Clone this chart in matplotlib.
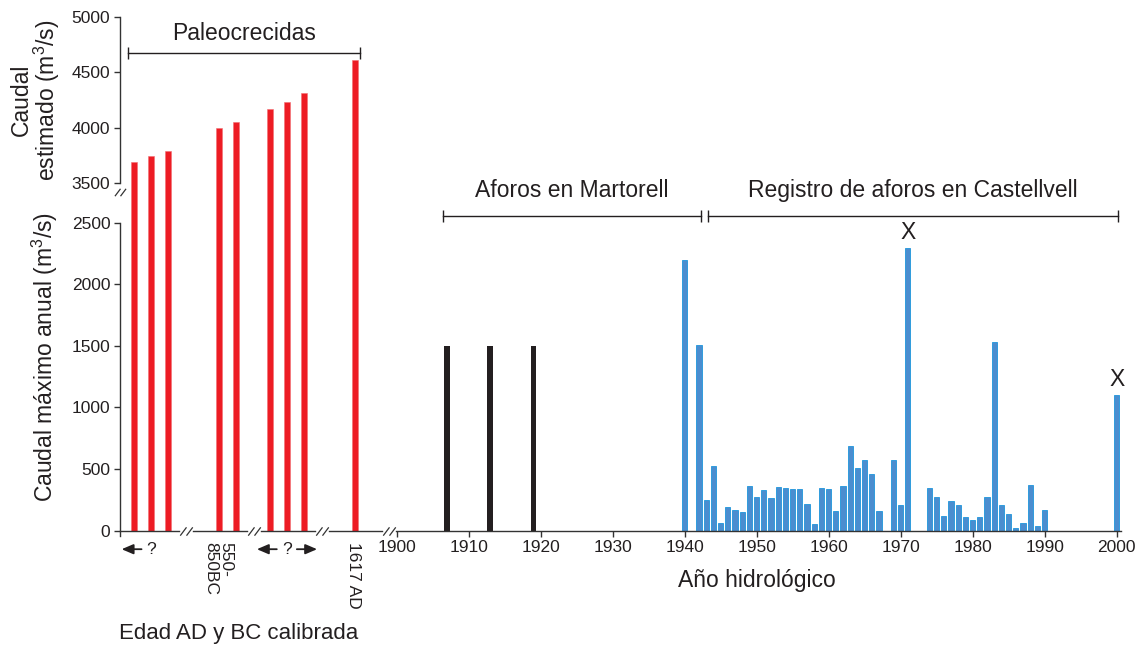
#!/usr/bin/env python3

import numpy as np
import matplotlib
matplotlib.use('Agg')
import matplotlib.pyplot as plt
import matplotlib.transforms as mtransforms
from matplotlib.path import Path

plt.rcParams['font.family'] = ['Liberation Sans', 'DejaVu Sans']
plt.rcParams['mathtext.fontset'] = 'custom'
plt.rcParams['mathtext.rm'] = 'Liberation Sans'
plt.rcParams['mathtext.it'] = 'Liberation Sans:italic'

# --- data -------------------------------------------------------------
# paleoflood estimates (upper, broken scale), position = slot on the left block
paleo_slots = [0, 1, 2, 5, 6, 8, 9, 10, 13]
paleo_values = [3690, 3745, 3790, 4000, 4050, 4170, 4235, 4310, 4610]

# Martorell gauge
martorell_years = [1907, 1913, 1919]
martorell_values = [1500, 1500, 1500]

# Castellvell gauge
castellvell_years = [1940, 1942,
                     1943, 1944, 1945, 1946, 1947, 1948, 1949, 1950, 1951, 1952,
                     1953, 1954, 1955, 1956, 1957, 1958, 1959, 1960, 1961, 1962,
                     1963, 1964, 1965, 1966, 1967,
                     1969, 1970, 1971,
                     1974, 1975, 1976, 1977, 1978, 1979, 1980, 1981, 1982, 1983,
                     1984, 1985, 1986, 1987, 1988, 1989, 1990,
                     2000]
castellvell_values = [2200, 1510,
                      249, 528, 60, 190, 168, 152, 360, 276, 328, 268,
                      352, 344, 336, 336, 214, 52, 344, 338, 160, 360,
                      685, 511, 571, 458, 157,
                      571, 209, 2292,
                      347, 271, 119, 244, 206, 109, 84, 109, 271, 1529,
                      206, 138, 19, 60, 368, 36, 166,
                      1100]
marked_years = [1971, 2000]

year_ticks = [1900, 1910, 1920, 1930, 1940, 1950, 1960, 1970, 1980, 1990, 2000]
y_ticks = [0, 500, 1000, 1500, 2000, 2500, 3500, 4000, 4500, 5000]

# --- layout constants --------------------------------------------------
TXT = '#231f20'
AXC = '#333333'
RED = '#ed1c24'
BLUE = '#4b8dcf'
BLUE_EDGE = '#1e96dc'

PALEO_X0 = 1863.5   # x of first paleo slot (in year units)
SLOT = 2.36         # slot spacing (in year units)
BREAK_SLOTS = [3.05, 7.05, 11.05, 15.0]
XMIN, XMAX = 1861.57, 2000.6

BREAK_LO, BREAK_HI = 2500, 3500
GAP = 320.0
K = 0.901


def slot_x(s):
    return PALEO_X0 + SLOT * np.asarray(s, float)


def fwd(y):
    y = np.asarray(y, float)
    mid = BREAK_LO + (y - BREAK_LO) * GAP / (BREAK_HI - BREAK_LO)
    hi = BREAK_LO + GAP + (y - BREAK_HI) * K
    return np.where(y <= BREAK_LO, y, np.where(y <= BREAK_HI, mid, hi))


def inv(u):
    u = np.asarray(u, float)
    mid = BREAK_LO + (u - BREAK_LO) * (BREAK_HI - BREAK_LO) / GAP
    hi = BREAK_HI + (u - BREAK_LO - GAP) / K
    return np.where(u <= BREAK_LO, u, np.where(u <= BREAK_LO + GAP, mid, hi))


brk_path = Path([(-6, -4), (0, 4), (0, -4), (6, 4)],
                [Path.MOVETO, Path.LINETO, Path.MOVETO, Path.LINETO])


def bracket(ax, x0, x1, y, label, ty):
    tr = mtransforms.blended_transform_factory(ax.transData, ax.transAxes)
    ax.plot([x0, x1], [y, y], color=TXT, lw=1, transform=tr, clip_on=False)
    ax.plot([x0, x1], [y, y], ls='none', marker='|', ms=8, mew=1,
            color=TXT, transform=tr, clip_on=False)
    ax.text((x0 + x1) / 2, ty, label, ha='center', va='center',
            fontsize=16.5, color=TXT, transform=tr)


def main():
    fig = plt.figure(figsize=(11.44, 6.5), dpi=100)
    ax = fig.add_axes([120 / 1144, 1 - 530.7 / 650, 1001 / 1144, 514 / 650])
    ax.set_yscale('function', functions=(fwd, inv))
    ax.set_xlim(XMIN, XMAX)
    ax.set_ylim(0, 5000)

    # bars
    ax.bar(slot_x(paleo_slots), paleo_values, width=0.83, color=RED,
           edgecolor='#f36d72', linewidth=0.4)
    ax.bar(martorell_years, martorell_values, width=0.8, color=TXT)
    ax.bar(castellvell_years, castellvell_values, width=0.72, color=BLUE,
           edgecolor=BLUE_EDGE, linewidth=0.6)

    for yr in marked_years:
        v = castellvell_values[castellvell_years.index(yr)]
        ax.annotate('X', xy=(yr, v), xytext=(0, 3), textcoords='offset points',
                    ha='center', va='bottom', fontsize=16.5, color=TXT)

    # axes lines with breaks
    for s in ax.spines.values():
        s.set_visible(False)
    ytr = mtransforms.blended_transform_factory(ax.transAxes, ax.transData)
    ax.plot([0, 0], [-45, BREAK_LO], color=AXC, lw=1, transform=ytr, clip_on=False)
    ax.plot([0, 0], [BREAK_HI, 5000], color=AXC, lw=1, transform=ytr, clip_on=False)
    ax.plot([0], [3280], marker=brk_path, ms=8, mew=0.9, color=AXC,
            transform=ytr, clip_on=False)

    edges = [XMIN]
    for b in BREAK_SLOTS:
        edges += [float(slot_x(b - 0.42)), float(slot_x(b + 0.42))]
    edges.append(XMAX)
    for i in range(0, len(edges), 2):
        ax.plot([edges[i], edges[i + 1]], [0, 0], color=AXC, lw=1, clip_on=False)
    ax.plot(slot_x(BREAK_SLOTS), np.zeros(len(BREAK_SLOTS)), ls='none',
            marker=brk_path, ms=9, mew=0.9, color=AXC, clip_on=False)

    # ticks
    ax.set_xticks(year_ticks)
    ax.set_xticklabels([str(t) for t in year_ticks])
    ax.set_yticks(y_ticks)
    ax.set_yticklabels([str(t) for t in y_ticks])
    ax.minorticks_off()
    ax.tick_params(axis='both', direction='out', length=4, width=1,
                   color=AXC, labelcolor=TXT, labelsize=12.5)
    ax.tick_params(axis='x', pad=3)
    ax.tick_params(axis='y', pad=3)

    # paleo labels below axis
    xtr = mtransforms.blended_transform_factory(ax.transData, ax.transAxes)
    ly = -0.036
    arrow = dict(arrowstyle='-|>,head_length=0.7,head_width=0.3',
                 color=TXT, lw=1.3, shrinkA=0, shrinkB=0)
    ax.text(float(slot_x(1)), ly, '?', ha='center', va='center', fontsize=12.5,
            color=TXT, transform=xtr)
    ax.annotate('', xy=(float(slot_x(-0.72)), ly), xytext=(float(slot_x(0.45)), ly),
                xycoords=xtr, textcoords=xtr, arrowprops=arrow, annotation_clip=False)
    ax.text(float(slot_x(9)), ly, '?', ha='center', va='center', fontsize=12.5,
            color=TXT, transform=xtr)
    ax.annotate('', xy=(float(slot_x(7.24)), ly), xytext=(float(slot_x(8.41)), ly),
                xycoords=xtr, textcoords=xtr, arrowprops=arrow, annotation_clip=False)
    ax.annotate('', xy=(float(slot_x(10.78)), ly), xytext=(float(slot_x(9.59)), ly),
                xycoords=xtr, textcoords=xtr, arrowprops=arrow, annotation_clip=False)
    ax.text(float(slot_x(4.97)), -0.022, '550-\n850BC', rotation=270, ha='center',
            va='top', multialignment='left', fontsize=12.5, color=TXT,
            transform=xtr, linespacing=1.0)
    ax.text(float(slot_x(12.9)), -0.022, '1617 AD', rotation=270, ha='center',
            va='top', fontsize=12.5, color=TXT, transform=xtr)

    # brackets
    bracket(ax, float(slot_x(-0.35)), float(slot_x(13.3)), 0.9294, 'Paleocrecidas', 0.968)
    bracket(ax, 1906.4, 1942.2, 0.6128, 'Aforos en Martorell', 0.6625)
    bracket(ax, 1943.3, 2000.2, 0.6128, 'Registro de aforos en Castellvell', 0.6625)

    # axis titles
    ax.text(1950, -0.096, 'Año hidrológico', ha='center', va='center',
            fontsize=16.5, color=TXT, transform=xtr)
    fig.text(239 / 1144, 1 - 634 / 650, 'Edad AD y BC calibrada', ha='center',
             va='center', fontsize=16, color=TXT)
    fig.text(45 / 1144, 1 - 357 / 650, 'Caudal máximo anual (m$^3$/s)',
             rotation=90, ha='center', va='center', fontsize=16.5, color=TXT)
    fig.text(36 / 1144, 1 - 100 / 650, 'Caudal\nestimado (m$^3$/s)',
             rotation=90, ha='center', va='center', multialignment='center',
             fontsize=16.5, color=TXT, linespacing=0.92)

    fig.savefig('out.png', dpi=100)


if __name__ == '__main__':
    main()
